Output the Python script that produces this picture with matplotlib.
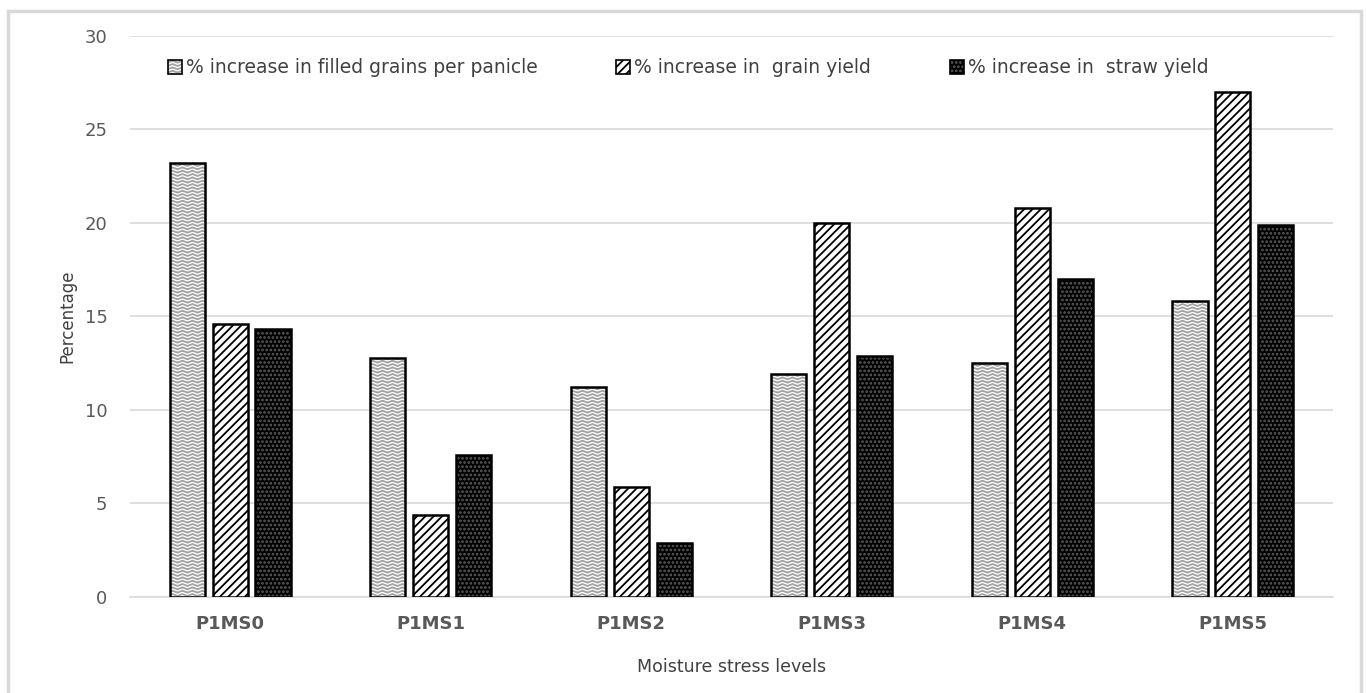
import warnings
import numpy as np
import matplotlib
matplotlib.use('Agg')
import matplotlib.pyplot as plt
import matplotlib.hatch as mhatch
from matplotlib.path import Path
from matplotlib.patches import Patch, Rectangle
from matplotlib.legend_handler import HandlerTuple

warnings.filterwarnings('ignore')

# dados
categorias = ['P1MS0', 'P1MS1', 'P1MS2', 'P1MS3', 'P1MS4', 'P1MS5']
graos_cheios = [23.2, 12.8, 11.2, 11.9, 12.5, 15.8]
prod_graos = [14.6, 4.4, 5.9, 20.0, 20.8, 27.0]
prod_palha = [14.3, 7.6, 2.9, 12.9, 17.0, 19.9]
rotulos = ['% increase in filled grains per panicle',
           '% increase in  grain yield',
           '% increase in  straw yield']


# hachura ondulada (nao existe no matplotlib)
class WaveHatch(mhatch.HatchPatternBase):
    def __init__(self, hatch, density):
        self.num_lines = int(hatch.count('~') * density)
        self.nseg = 40
        self.num_vertices = self.num_lines * (self.nseg + 1)

    def set_vertices_and_codes(self, vertices, codes):
        steps, stepsize = np.linspace(0.0, 1.0, self.num_lines, False, retstep=True)
        steps += stepsize / 2.
        xs = np.linspace(0.0, 1.0, self.nseg + 1)
        ys = 0.3 * stepsize * np.sin(xs * 2 * np.pi * 10)
        n = self.nseg + 1
        for i, s in enumerate(steps):
            vertices[i * n:(i + 1) * n, 0] = xs
            vertices[i * n:(i + 1) * n, 1] = s + ys
            codes[i * n] = Path.MOVETO
            codes[i * n + 1:(i + 1) * n] = Path.LINETO


mhatch._hatch_types.append(WaveHatch)

plt.rcParams['font.family'] = ['DejaVu Sans']
plt.rcParams['hatch.linewidth'] = 1.3

fig = plt.figure(figsize=(13.66, 6.93), dpi=100)
ax = fig.add_axes([0.095, 0.1385, 0.881, 0.81])

# borda da figura
fig.patches.append(Rectangle((0.006, -0.01), 0.99, 0.994, transform=fig.transFigure,
                             fill=False, edgecolor='#d9d9d9', linewidth=2.5))

x = np.arange(len(categorias))
w = 0.175
d = 0.214

onda = '~~~~~'
pontos = '....'
cor_onda = '#a3a3a3'
cor_pontos = '#5c5c5c'

# ondas em cinza + contorno preto
ax.bar(x - d, graos_cheios, w, facecolor='white', edgecolor=cor_onda,
       hatch=onda, linewidth=0, zorder=3)
ax.bar(x - d, graos_cheios, w, fill=False, edgecolor='black', linewidth=1.8, zorder=4)
ax.bar(x, prod_graos, w, facecolor='white', edgecolor='black',
       hatch='////', linewidth=1.8, zorder=3)
ax.bar(x + d, prod_palha, w, facecolor='black', edgecolor=cor_pontos,
       hatch=pontos, linewidth=0, zorder=3)
ax.bar(x + d, prod_palha, w, fill=False, edgecolor='black', linewidth=1.8, zorder=4)

ax.set_xlim(-0.5, 5.5)
ax.set_ylim(0, 30)
ax.set_yticks(range(0, 31, 5))
ax.set_xticks(x)
ax.set_xticklabels(categorias, fontweight='bold')
ax.tick_params(axis='x', length=0, pad=13, labelsize=13, labelcolor='#595959')
ax.tick_params(axis='y', length=0, pad=16, labelsize=13, labelcolor='#595959')
ax.grid(axis='y', color='#d9d9d9', linewidth=1.2, zorder=0)
ax.set_axisbelow(True)
for s in ['top', 'right', 'left']:
    ax.spines[s].set_visible(False)
ax.spines['bottom'].set_color('#d9d9d9')
ax.spines['bottom'].set_linewidth(1.2)

ax.set_ylabel('Percentage', fontsize=12, color='#404040', labelpad=6)
ax.set_xlabel('Moisture stress levels', fontsize=12.5, color='#404040', labelpad=18)

h1 = (Patch(facecolor='white', edgecolor=cor_onda, hatch=onda, linewidth=0),
      Patch(fill=False, edgecolor='black', linewidth=1.2))
h2 = Patch(facecolor='white', edgecolor='black', hatch='////', linewidth=1.2)
h3 = (Patch(facecolor='black', edgecolor=cor_pontos, hatch=pontos, linewidth=0),
      Patch(fill=False, edgecolor='black', linewidth=1.2))
ax.legend([h1, h2, h3], rotulos, ncol=3, loc='upper center',
          bbox_to_anchor=(0.464, 0.99), frameon=False, fontsize=13.5,
          handlelength=0.75, handleheight=0.75, handletextpad=0.2,
          columnspacing=4.2, labelcolor='#404040',
          handler_map={tuple: HandlerTuple(ndivide=1)})

plt.savefig('out.png', dpi=100)
